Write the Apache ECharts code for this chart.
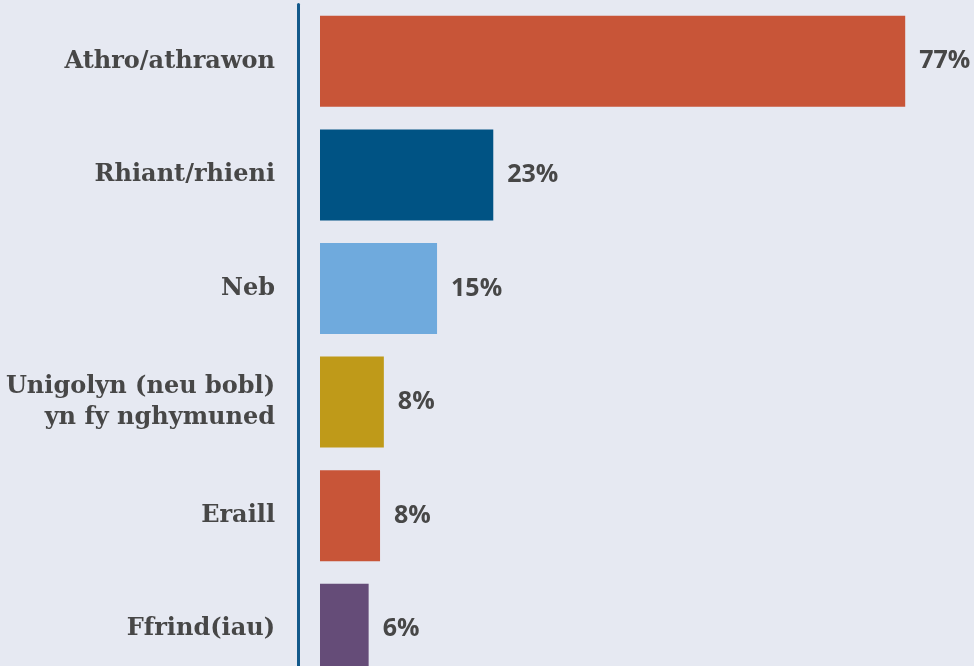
<!DOCTYPE html>
<html>
<head>
<meta charset="utf-8">
<script src="https://cdn.jsdelivr.net/npm/echarts@6/dist/echarts.min.js"></script>
<style>
  html, body { margin: 0; padding: 0; background: #e6e9f2; overflow: hidden; }
  /* taller than the window: the last bar runs off the bottom edge */
  #chart { width: 974px; height: 686px; }
</style>
</head>
<body>
<div id="chart"></div>
<script>
// categories (top to bottom) and share in %
var categories = ['Athro/athrawon', 'Rhiant/rhieni', 'Neb', 'Unigolyn (neu bobl)\nyn fy nghymuned', 'Eraill', 'Ffrind(iau)']
var values = [77, 22.8, 15.4, 8.4, 7.9, 6.4]
var barColors = ['#c85538', '#005384', '#6faadd', '#bf9a19', '#c85538', '#654c78']

var chart = echarts.init(document.getElementById('chart'))

chart.setOption({
  backgroundColor: '#e6e9f2',
  animation: false,
  grid: {
    left: 320,
    right: 46,
    top: 4.5,
    bottom: 0
  },
  xAxis: {
    type: 'value',
    min: 0,
    max: 80,
    show: false
  },
  yAxis: {
    type: 'category',
    data: categories,
    inverse: true,
    offset: 22,
    axisTick: { show: false },
    axisLine: {
      onZero: false,
      lineStyle: { color: '#13598b', width: 3 }
    },
    axisLabel: {
      margin: 23,
      color: '#474747',
      fontFamily: 'DejaVu Serif',
      fontWeight: 'bold',
      fontSize: 24,
      lineHeight: 31,
      align: 'right'
    }
  },
  series: [{
    type: 'bar',
    barWidth: 91,
    data: values.map(function(v, i) {
      return { value: v, itemStyle: { color: barColors[i] } }
    }),
    label: {
      show: true,
      position: 'right',
      distance: 14,
      color: '#474747',
      fontFamily: 'Open Sans',
      fontWeight: 'bold',
      fontSize: 25,
      formatter: function(p) {
        return Math.round(p.value) + '%'
      }
    }
  }]
})
</script>
</body>
</html>
